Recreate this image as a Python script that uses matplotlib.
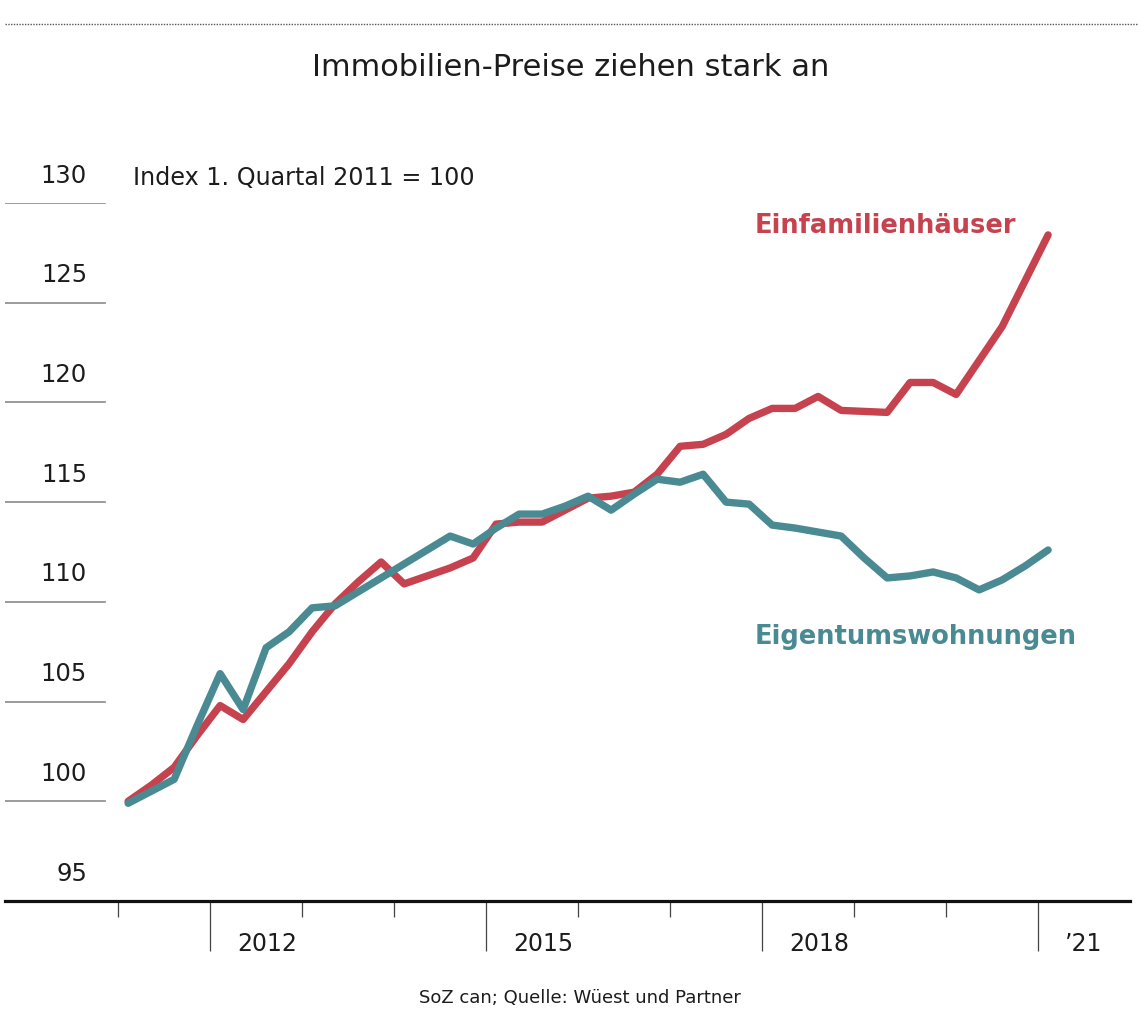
import matplotlib
matplotlib.use("Agg")
import matplotlib.pyplot as plt
from matplotlib.lines import Line2D
import matplotlib.transforms as mtransforms

# ---- data -------------------------------------------------------------
quarters = list(range(41))  # Q1 2011 ... Q1 2021
einfamilienhaeuser = [100.0, 100.8, 101.7, 103.3, 104.8, 104.1, 105.5, 106.9, 108.5, 109.9,
                      111.0, 112.0, 110.9, 111.3, 111.7, 112.2, 113.9, 114.0, 114.0, 114.6,
                      115.2, 115.3, 115.5, 116.4, 117.8, 117.9, 118.4, 119.2, 119.7, 119.7,
                      120.3, 119.6, 119.55, 119.5, 121.0, 121.0, 120.4, 122.1, 123.8, 126.1,
                      128.4]
eigentumswohnungen = [99.9, 100.5, 101.1, 103.8, 106.4, 104.6, 107.7, 108.5, 109.7, 109.8,
                      110.5, 111.2, 111.9, 112.6, 113.3, 112.9, 113.7, 114.4, 114.4, 114.8,
                      115.3, 114.6, 115.4, 116.15, 116.0, 116.4, 115.0, 114.9, 113.85, 113.7,
                      113.5, 113.3, 112.2, 111.2, 111.3, 111.5, 111.2, 110.6, 111.1, 111.8,
                      112.6]
y_ticks = [95, 100, 105, 110, 115, 120, 125, 130]
grid_values = [100, 105, 110, 115, 120, 125, 130]
minor_years = [2011, 2013, 2014, 2016, 2017, 2019, 2020]
major_years = [2012, 2015, 2018, 2021]
major_labels = ["2012", "2015", "2018", "\u201921"]

title = "Immobilien-Preise ziehen stark an"
subtitle = "Index 1. Quartal 2011 = 100"
source = "SoZ can; Quelle: Wüest und Partner"
name_red = "Einfamilienhäuser"
name_teal = "Eigentumswohnungen"

RED = "#C7424F"
TEAL = "#4A8A92"
TXT = "#1c1c1c"

plt.rcParams["font.family"] = ["DejaVu Sans"]

W, H = 1138, 1020
fig = plt.figure(figsize=(W / 100, H / 100), dpi=100)
fig.patch.set_facecolor("white")

# axes frame in pixels: x 5..1130, y(95)=902 px, y(130)=204 px from top
ax_l, ax_r, ax_b, ax_t = 5, 1130, 902, 204
ax = fig.add_axes([ax_l / W, 1 - ax_b / H, (ax_r - ax_l) / W, (ax_b - ax_t) / H])
ax.set_facecolor("none")

px_per_year = 92.0
x0_year_px = 118
ax.set_xlim(2011 - (x0_year_px - ax_l) / px_per_year, 2011 + (ax_r - x0_year_px) / px_per_year)
ax.set_ylim(95, 130)

xs = [2011.11 + q / 4 for q in quarters]

ax.plot(xs, einfamilienhaeuser, color=RED, lw=5.3, solid_joinstyle="round",
        solid_capstyle="round", zorder=3, clip_on=False)
ax.plot(xs, eigentumswohnungen, color=TEAL, lw=5.3, solid_joinstyle="round",
        solid_capstyle="round", zorder=4, clip_on=False)

# spines
for s in ["top", "right", "left"]:
    ax.spines[s].set_visible(False)
ax.spines["bottom"].set_linewidth(2.3)
ax.spines["bottom"].set_color("#111111")

# short grid lines on the left
frac_grid = (105 - ax_l) / (ax_r - ax_l)
for v in grid_values:
    ax.axhline(v, xmin=0, xmax=frac_grid, color="#8a8a8a", lw=1.2, zorder=1)

# y labels (right aligned, above lines)
blend = mtransforms.blended_transform_factory(ax.transAxes, ax.transData)
frac_lab = (87 - ax_l) / (ax_r - ax_l)
for v in y_ticks:
    ax.annotate(str(v), xy=(frac_lab, v), xycoords=blend, xytext=(0, 20.5),
                textcoords="offset points", ha="right", va="center",
                fontsize=17.5, color=TXT, annotation_clip=False)

ax.annotate(subtitle, xy=((133 - ax_l) / (ax_r - ax_l), 130), xycoords=blend,
            xytext=(0, 18.5), textcoords="offset points", ha="left", va="center",
            fontsize=17.2, color=TXT, annotation_clip=False)

# x ticks
ax.set_yticks([])
ax.set_xticks(major_years)
ax.set_xticks(minor_years, minor=True)
ax.set_xticklabels([""] * len(major_years))
ax.tick_params(axis="x", which="major", length=36, width=0.9, color="#444444", direction="out")
ax.tick_params(axis="x", which="minor", length=11.5, width=0.9, color="#444444", direction="out")

for yr, lab in zip(major_years, major_labels):
    ax.annotate(lab, xy=(yr + 27 / px_per_year, 95), xycoords="data", xytext=(0, -30),
                textcoords="offset points", ha="left", va="center", fontsize=17,
                color=TXT, annotation_clip=False)

# series labels
lab_x = 2011 + (755 - x0_year_px) / px_per_year
ax.text(lab_x, 100 + (802 - 226) / 19.93, name_red, color=RED, fontsize=18.5,
        fontweight="bold", ha="left", va="center")
ax.text(lab_x, 100 + (802 - 637) / 19.93, name_teal, color=TEAL, fontsize=18.5,
        fontweight="bold", ha="left", va="center")

# title, source, dotted rule
fig.text(571 / W, 1 - 68 / H, title, ha="center", va="center", fontsize=22, color=TXT)
fig.text(580 / W, 1 - 998 / H, source, ha="center", va="center", fontsize=13, color=TXT)
fig.add_artist(Line2D([5 / W, 1.0], [1 - 25 / H, 1 - 25 / H], transform=fig.transFigure,
                      color="#555555", lw=1.0, linestyle=(0, (1, 1))))

fig.savefig("out.png", dpi=100, facecolor="white")
